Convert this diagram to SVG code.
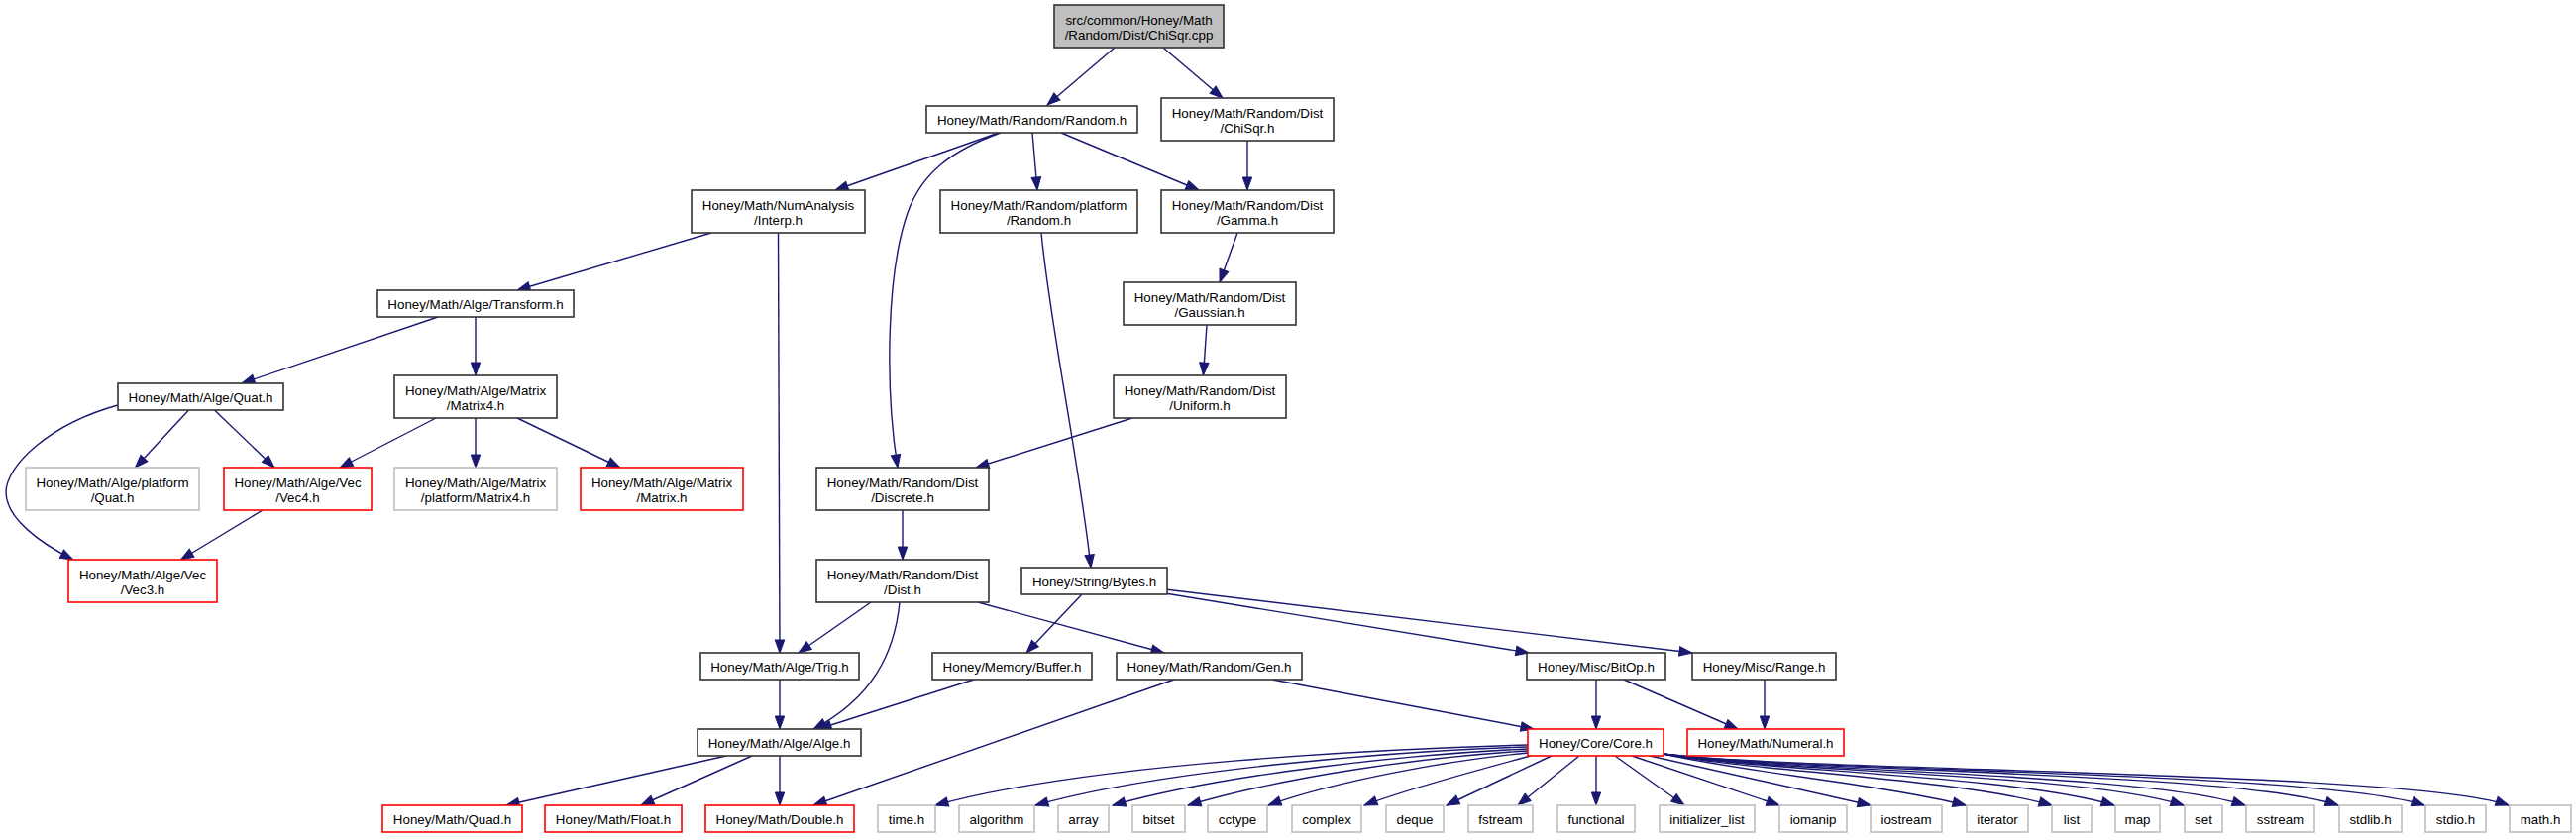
<svg xmlns="http://www.w3.org/2000/svg" width="2600" height="848" viewBox="0 0 2600 848">
<style>
rect{fill:#fff;stroke:#333;stroke-width:1.6}
.root rect{fill:#bfbfbf}
.red rect{stroke:#ff0000}
.gr rect{stroke:#bfbfbf}
text{font-family:"Liberation Sans",Arial,Helvetica,sans-serif;font-size:13.33px;text-anchor:middle;fill:#000;transform:translateY(0.8px)}
#edges path{fill:none;stroke:#191970;stroke-width:1.4;marker-end:url(#arr)}
</style>
<defs>
<marker id="arr" markerUnits="userSpaceOnUse" markerWidth="14" markerHeight="10" refX="13" refY="4.7" orient="auto" overflow="visible">
<path d="M0,0 L13,4.7 L0,9.4 z" fill="#191970" stroke="#191970" stroke-width="1"/>
</marker>
</defs>
<rect x="0" y="0" width="2600" height="848" style="fill:#fff;stroke:none"/>
<g id="edges">
<path d="M1125,48 L1057,106"/>
<path d="M1174,48 L1234,99"/>
<path d="M1008,134 L843,192"/>
<path d="M1010,134 C960,152 930,175 916,215 C895,275 893,390 906,472"/>
<path d="M1042,134 L1047,192"/>
<path d="M1071,134 L1210,192"/>
<path d="M1259,142 L1259,192"/>
<path d="M718,235 L522,293"/>
<path d="M785.5,235 L787,659"/>
<path d="M1051,235 C1060,330 1090,470 1101,573"/>
<path d="M1249,235 L1231,285"/>
<path d="M1218,328 L1214.5,379"/>
<path d="M1143,422 L985,472"/>
<path d="M442,320 L244,387"/>
<path d="M480,320 L480,379"/>
<path d="M190.5,414 L136.5,472"/>
<path d="M216.5,414 L277,472"/>
<path d="M119,409 C50,428 6,470 6,497 C6,523 40,548 74,565"/>
<path d="M440,422 L343,472"/>
<path d="M480,422 L480,472"/>
<path d="M522,422 L626,472"/>
<path d="M265,515 L182.5,565"/>
<path d="M911,515 L911,565"/>
<path d="M879,608 L806,659"/>
<path d="M908,608 C903,660 880,705 821,736"/>
<path d="M987,608 L1175,659"/>
<path d="M1092,600 L1036,659"/>
<path d="M1176,599 L1543,659"/>
<path d="M1176,595 L1708,659"/>
<path d="M787,686 L787,736"/>
<path d="M983,686 L826,736"/>
<path d="M1185,686 L821,813"/>
<path d="M1284,686 L1548,736"/>
<path d="M1611,686 L1611,736"/>
<path d="M1639,686 L1754,736"/>
<path d="M1781,686 L1781,736"/>
<path d="M733,763 L511,813"/>
<path d="M759,763 L647,813"/>
<path d="M787,763 L787,813"/>
<path d="M1542,752 C1400,756 1100,770 944,813"/>
<path d="M1542,754 C1420,758 1180,775 1045,813"/>
<path d="M1542,756 C1430,761 1240,780 1123,813"/>
<path d="M1542,758 C1440,764 1300,783 1199,813"/>
<path d="M1542,760 C1460,768 1350,788 1280,813"/>
<path d="M1545,763 C1500,775 1420,797 1377,813"/>
<path d="M1566,763 L1460,813"/>
<path d="M1594,763 L1532,813"/>
<path d="M1611,763 L1611,813"/>
<path d="M1630,763 L1700,813"/>
<path d="M1647,763 L1796,813"/>
<path d="M1665,763 L1888,813"/>
<path d="M1679,761 C1750,778 1900,792 1984,813"/>
<path d="M1679,761 C1760,778 1970,785 2071,813"/>
<path d="M1679,761 C1770,778 2030,782 2134,813"/>
<path d="M1679,761 C1780,779 2100,780 2204,813"/>
<path d="M1679,761 C1790,779 2160,779 2266,813"/>
<path d="M1679,761 C1800,779 2250,778 2360,813"/>
<path d="M1679,761 C1810,779 2340,778 2447,813"/>
<path d="M1679,761 C1820,779 2430,778 2532,813"/>
</g>
<g id="root" class="root"><rect x="1064" y="5" width="171" height="43"/><text x="1149.5" y="24">src/common/Honey/Math</text><text x="1149.5" y="39.5">/Random/Dist/ChiSqr.cpp</text></g>
<g id="random"><rect x="935" y="107" width="213" height="27"/><text x="1041.5" y="125.5">Honey/Math/Random/Random.h</text></g>
<g id="chisqr"><rect x="1172" y="99" width="174" height="43"/><text x="1259" y="118">Honey/Math/Random/Dist</text><text x="1259" y="133.5">/ChiSqr.h</text></g>
<g id="interp"><rect x="698" y="192" width="175" height="43"/><text x="785.5" y="211">Honey/Math/NumAnalysis</text><text x="785.5" y="226.5">/Interp.h</text></g>
<g id="prandom"><rect x="949" y="192" width="199" height="43"/><text x="1048.5" y="211">Honey/Math/Random/platform</text><text x="1048.5" y="226.5">/Random.h</text></g>
<g id="gamma"><rect x="1172" y="192" width="174" height="43"/><text x="1259" y="211">Honey/Math/Random/Dist</text><text x="1259" y="226.5">/Gamma.h</text></g>
<g id="gaussian"><rect x="1134" y="285" width="174" height="43"/><text x="1221" y="304">Honey/Math/Random/Dist</text><text x="1221" y="319.5">/Gaussian.h</text></g>
<g id="uniform"><rect x="1124" y="379" width="174" height="43"/><text x="1211" y="398">Honey/Math/Random/Dist</text><text x="1211" y="413.5">/Uniform.h</text></g>
<g id="transform"><rect x="381" y="293" width="198" height="27"/><text x="480" y="311.5">Honey/Math/Alge/Transform.h</text></g>
<g id="quat"><rect x="119" y="387" width="167" height="27"/><text x="202.5" y="405.5">Honey/Math/Alge/Quat.h</text></g>
<g id="matrix4"><rect x="398" y="379" width="164" height="43"/><text x="480" y="398">Honey/Math/Alge/Matrix</text><text x="480" y="413.5">/Matrix4.h</text></g>
<g id="pquat" class="gr"><rect x="26" y="472" width="175" height="43"/><text x="113.5" y="491">Honey/Math/Alge/platform</text><text x="113.5" y="506.5">/Quat.h</text></g>
<g id="vec4" class="red"><rect x="226" y="472" width="149" height="43"/><text x="300.5" y="491">Honey/Math/Alge/Vec</text><text x="300.5" y="506.5">/Vec4.h</text></g>
<g id="pmatrix4" class="gr"><rect x="398" y="472" width="164" height="43"/><text x="480" y="491">Honey/Math/Alge/Matrix</text><text x="480" y="506.5">/platform/Matrix4.h</text></g>
<g id="matrix" class="red"><rect x="586" y="472" width="164" height="43"/><text x="668" y="491">Honey/Math/Alge/Matrix</text><text x="668" y="506.5">/Matrix.h</text></g>
<g id="vec3" class="red"><rect x="69" y="565" width="150" height="43"/><text x="144" y="584">Honey/Math/Alge/Vec</text><text x="144" y="599.5">/Vec3.h</text></g>
<g id="discrete"><rect x="824" y="472" width="174" height="43"/><text x="911" y="491">Honey/Math/Random/Dist</text><text x="911" y="506.5">/Discrete.h</text></g>
<g id="dist"><rect x="824" y="565" width="174" height="43"/><text x="911" y="584">Honey/Math/Random/Dist</text><text x="911" y="599.5">/Dist.h</text></g>
<g id="bytes"><rect x="1031" y="573" width="147" height="27"/><text x="1104.5" y="591.5">Honey/String/Bytes.h</text></g>
<g id="trig"><rect x="707" y="659" width="160" height="27"/><text x="787" y="677.5">Honey/Math/Alge/Trig.h</text></g>
<g id="buffer"><rect x="941" y="659" width="161" height="27"/><text x="1021.5" y="677.5">Honey/Memory/Buffer.h</text></g>
<g id="gen"><rect x="1127" y="659" width="187" height="27"/><text x="1220.5" y="677.5">Honey/Math/Random/Gen.h</text></g>
<g id="bitop"><rect x="1541" y="659" width="140" height="27"/><text x="1611" y="677.5">Honey/Misc/BitOp.h</text></g>
<g id="range"><rect x="1708" y="659" width="145" height="27"/><text x="1780.5" y="677.5">Honey/Misc/Range.h</text></g>
<g id="alge"><rect x="704" y="736" width="165" height="27"/><text x="786.5" y="754.5">Honey/Math/Alge/Alge.h</text></g>
<g id="core" class="red"><rect x="1542" y="736" width="137" height="27"/><text x="1610.5" y="754.5">Honey/Core/Core.h</text></g>
<g id="numeral" class="red"><rect x="1703" y="736" width="158" height="27"/><text x="1782" y="754.5">Honey/Math/Numeral.h</text></g>
<g id="quad" class="red"><rect x="386" y="813" width="141" height="27"/><text x="456.5" y="831.5">Honey/Math/Quad.h</text></g>
<g id="float" class="red"><rect x="550" y="813" width="138" height="27"/><text x="619" y="831.5">Honey/Math/Float.h</text></g>
<g id="double" class="red"><rect x="712" y="813" width="150" height="27"/><text x="787" y="831.5">Honey/Math/Double.h</text></g>
<g id="time" class="gr"><rect x="886" y="813" width="58" height="27"/><text x="915" y="831.5">time.h</text></g>
<g id="algorithm" class="gr"><rect x="968" y="813" width="76" height="27"/><text x="1006" y="831.5">algorithm</text></g>
<g id="array" class="gr"><rect x="1068" y="813" width="51" height="27"/><text x="1093.5" y="831.5">array</text></g>
<g id="bitset" class="gr"><rect x="1143" y="813" width="53" height="27"/><text x="1169.5" y="831.5">bitset</text></g>
<g id="cctype" class="gr"><rect x="1219" y="813" width="60" height="27"/><text x="1249" y="831.5">cctype</text></g>
<g id="complex" class="gr"><rect x="1304" y="813" width="70" height="27"/><text x="1339" y="831.5">complex</text></g>
<g id="deque" class="gr"><rect x="1399" y="813" width="58" height="27"/><text x="1428" y="831.5">deque</text></g>
<g id="fstream" class="gr"><rect x="1482" y="813" width="65" height="27"/><text x="1514.5" y="831.5">fstream</text></g>
<g id="functional" class="gr"><rect x="1572" y="813" width="78" height="27"/><text x="1611" y="831.5">functional</text></g>
<g id="initializer_list" class="gr"><rect x="1675" y="813" width="96" height="27"/><text x="1723" y="831.5">initializer_list</text></g>
<g id="iomanip" class="gr"><rect x="1796" y="813" width="68" height="27"/><text x="1830" y="831.5">iomanip</text></g>
<g id="iostream" class="gr"><rect x="1888" y="813" width="72" height="27"/><text x="1924" y="831.5">iostream</text></g>
<g id="iterator" class="gr"><rect x="1985" y="813" width="62" height="27"/><text x="2016" y="831.5">iterator</text></g>
<g id="list" class="gr"><rect x="2071" y="813" width="40" height="27"/><text x="2091" y="831.5">list</text></g>
<g id="map" class="gr"><rect x="2135" y="813" width="45" height="27"/><text x="2157.5" y="831.5">map</text></g>
<g id="set" class="gr"><rect x="2205" y="813" width="38" height="27"/><text x="2224" y="831.5">set</text></g>
<g id="sstream" class="gr"><rect x="2267" y="813" width="69" height="27"/><text x="2301.5" y="831.5">sstream</text></g>
<g id="stdlib" class="gr"><rect x="2361" y="813" width="63" height="27"/><text x="2392.5" y="831.5">stdlib.h</text></g>
<g id="stdio" class="gr"><rect x="2448" y="813" width="61" height="27"/><text x="2478.5" y="831.5">stdio.h</text></g>
<g id="math" class="gr"><rect x="2533" y="813" width="62" height="27"/><text x="2564" y="831.5">math.h</text></g>
</svg>
